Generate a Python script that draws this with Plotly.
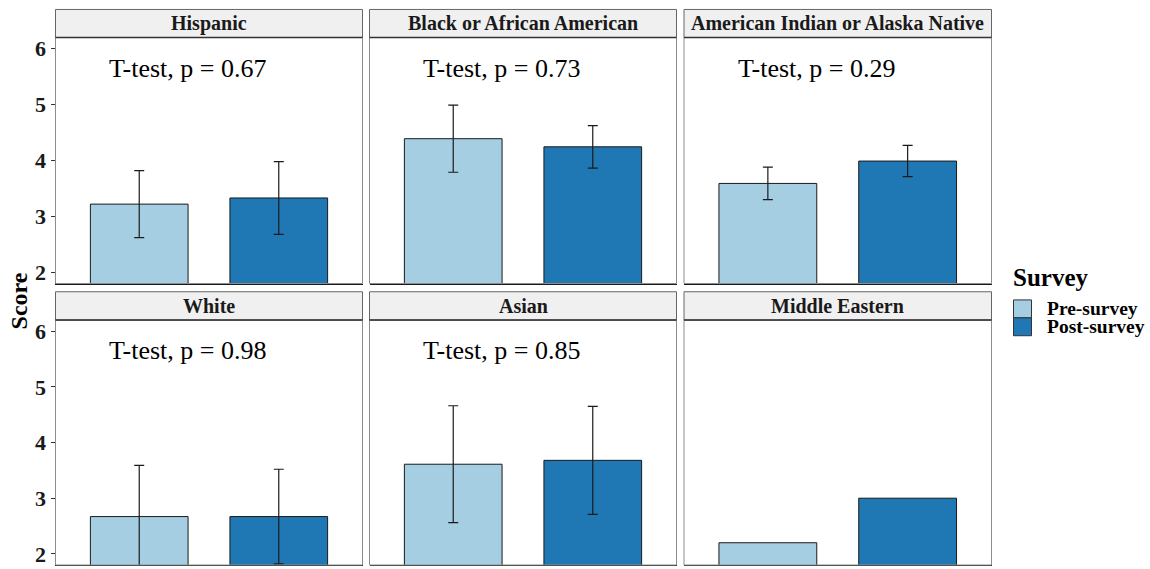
import plotly.graph_objects as go

# Faceted survey scores by group: pre vs post means with error bars
groups = ["Hispanic", "Black or African American", "American Indian or Alaska Native",
          "White", "Asian", "Middle Eastern"]
surveys = ["Pre-survey", "Post-survey"]
pre_mean = [3.22, 4.39, 3.59, 2.67, 3.61, 2.20]
post_mean = [3.33, 4.245, 3.99, 2.67, 3.68, 3.00]
pre_err = [0.60, 0.60, 0.29, 0.92, 1.05, None]
post_err = [0.65, 0.38, 0.28, 0.85, 0.97, None]
p_values = ["0.67", "0.73", "0.29", "0.98", "0.85", None]
y_ticks = [2, 3, 4, 5, 6]

colors = {"Pre-survey": "#A6CEE3", "Post-survey": "#1F78B4"}
FONT = "Liberation Serif"
W, H = 1150, 569

# panel layout in pixels
col_x = [(55.5, 362.5), (369.5, 676.5), (684.0, 991.5)]
row_y = [(36.7, 284.0), (320.7, 567.0)]
strip_y = [(8.5, 36.7), (292.3, 320.7)]


def px_x(v):
    return v / W


def px_y(v):
    return 1 - v / H


fig = go.Figure()
shapes = []
annotations = []

for i, g in enumerate(groups):
    r, c = divmod(i, 3)
    n = i + 1
    xa = "x" if n == 1 else f"x{n}"
    ya = "y" if n == 1 else f"y{n}"
    means = [pre_mean[i], post_mean[i]]
    errs = [pre_err[i], post_err[i]]
    for k, s in enumerate(surveys):
        err = errs[k]
        fig.add_trace(go.Bar(
            x=[k + 1], y=[means[k]], width=0.7, base=0,
            marker=dict(color=colors[s], line=dict(color="#1a1a1a", width=1)),
            error_y=dict(type="data", array=[err], visible=err is not None,
                         color="#1a1a1a", thickness=1.2, width=5),
            xaxis=xa, yaxis=ya, showlegend=False, name=s,
        ))
    x0, x1 = col_x[c]
    y0, y1 = row_y[r]
    xkey = "xaxis" if n == 1 else f"xaxis{n}"
    ykey = "yaxis" if n == 1 else f"yaxis{n}"
    fig.update_layout({
        xkey: dict(domain=[px_x(x0), px_x(x1)], anchor=ya, range=[0.4, 2.6],
                   showticklabels=False, ticks="", showgrid=False, zeroline=False,
                   showline=True, linecolor="#1a1a1a", linewidth=1, fixedrange=True),
        ykey: dict(domain=[px_y(y1), px_y(y0)], anchor=xa, range=[1.8, 6.2],
                   tickvals=y_ticks, showticklabels=(c == 0),
                   ticks="outside" if c == 0 else "", ticklen=4, tickcolor="#333333",
                   tickfont=dict(family=FONT, size=22, color="#1a1a1a", weight="bold"),
                   showgrid=False, zeroline=False,
                   showline=(c == 0), linecolor="#1a1a1a", linewidth=1, fixedrange=True),
    })
    # panel border
    shapes.append(dict(type="rect", xref=f"{xa} domain", yref=f"{ya} domain",
                       x0=0, x1=1, y0=0, y1=1, line=dict(color="#8c8c8c", width=1),
                       fillcolor="rgba(0,0,0,0)", layer="above"))
    # facet strip
    sy0, sy1 = strip_y[r]
    shapes.append(dict(type="rect", xref="paper", yref="paper",
                       x0=px_x(x0), x1=px_x(x1), y0=px_y(sy1), y1=px_y(sy0),
                       fillcolor="#F0F0F0", line=dict(color="#666666", width=1)))
    shapes.append(dict(type="line", xref="paper", yref="paper",
                       x0=px_x(x0), x1=px_x(x1), y0=px_y(sy1), y1=px_y(sy1),
                       line=dict(color="#333333", width=1.5)))
    annotations.append(dict(text=f"<b>{g}</b>", xref="paper", yref="paper",
                            x=px_x((x0 + x1) / 2), y=px_y((sy0 + sy1) / 2),
                            xanchor="center", yanchor="middle", showarrow=False,
                            font=dict(family=FONT, size=20, color="#1a1a1a")))
    if p_values[i] is not None:
        annotations.append(dict(text=f"T-test, p = {p_values[i]}", xref=xa, yref=ya,
                                x=0.77, y=5.65, xanchor="left", yanchor="middle",
                                showarrow=False,
                                font=dict(family=FONT, size=26, color="#000000")))

# y-axis title
annotations.append(dict(text="<b>Score</b>", xref="paper", yref="paper",
                        x=px_x(19), y=px_y(302), textangle=-90,
                        xanchor="center", yanchor="middle", showarrow=False,
                        font=dict(family=FONT, size=24, color="#000000")))

# legend
annotations.append(dict(text="<b>Survey</b>", xref="paper", yref="paper",
                        x=px_x(1011), y=px_y(278), xanchor="left", yanchor="middle",
                        showarrow=False, font=dict(family=FONT, size=25, color="#000000")))
key_tops = [300.5, 318.5]
for k, s in enumerate(surveys):
    t = key_tops[k]
    shapes.append(dict(type="rect", xref="paper", yref="paper",
                       x0=px_x(1013.5), x1=px_x(1031.5), y0=px_y(t + 18), y1=px_y(t),
                       fillcolor=colors[s], line=dict(color="#333333", width=1)))
    annotations.append(dict(text=f"<b>{s}</b>", xref="paper", yref="paper",
                            x=px_x(1045), y=px_y(t + 9), xanchor="left", yanchor="middle",
                            showarrow=False,
                            font=dict(family=FONT, size=19.5, color="#000000")))

fig.update_layout(
    width=W, height=H, margin=dict(l=0, r=0, t=0, b=0),
    paper_bgcolor="white", plot_bgcolor="white",
    barmode="overlay", showlegend=False,
    shapes=shapes, annotations=annotations,
    font=dict(family=FONT),
)

fig.write_html("out.html")
